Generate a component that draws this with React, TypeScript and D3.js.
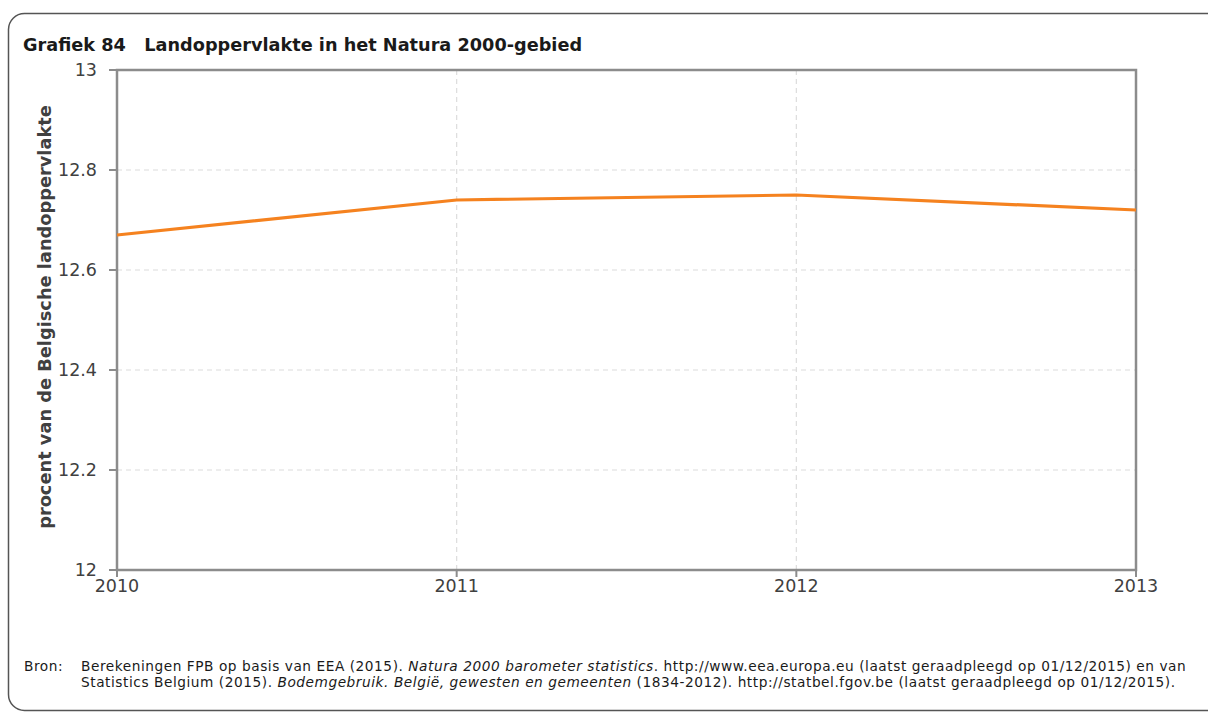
import React from "react";
import * as d3 from "d3";

const years = [2010, 2011, 2012, 2013];
const values = [12.67, 12.74, 12.75, 12.72];
const yTicks = [12, 12.2, 12.4, 12.6, 12.8, 13];
const yTickLabels = ["12", "12.2", "12.4", "12.6", "12.8", "13"];
const xTickLabels = ["2010", "2011", "2012", "2013"];

const title = "Grafiek 84\u00a0\u00a0\u00a0Landoppervlakte in het Natura 2000-gebied";
const yLabel = "procent van de Belgische landoppervlakte";

const W = 1208;
const H = 713;
const FONT = "'DejaVu Sans', Verdana, sans-serif";

export default function App() {
  const x = d3.scaleLinear().domain([2010, 2013]).range([117, 1136]);
  const y = d3.scaleLinear().domain([12, 13]).range([570, 70]);
  const line = d3
    .line<number>()
    .x((_, i) => x(years[i]))
    .y((d) => y(d));

  return (
    <svg
      width={W}
      height={H}
      style={{ position: "absolute", left: 0, top: 0, background: "#fff" }}
    >
      <rect x={8.5} y={13.5} width={1215} height={697} rx={16} ry={16} fill="#fff" stroke="#555" strokeWidth={1.5} />
      <text x={23} y={51} fontFamily={FONT} fontWeight="bold" fontSize={17.7} fill="#1a1a1a">
        {title}
      </text>

      {/* grid */}
      {yTicks.slice(1, -1).map((t) => (
        <line key={"gy" + t} x1={x(2010)} x2={x(2013)} y1={y(t)} y2={y(t)} stroke="#dcdcdc" strokeWidth={1.2} strokeDasharray="5,4" />
      ))}
      {years.slice(1, -1).map((yr) => (
        <line key={"gx" + yr} x1={x(yr)} x2={x(yr)} y1={y(13)} y2={y(12)} stroke="#dcdcdc" strokeWidth={1.2} strokeDasharray="5,4" />
      ))}

      {/* axes frame */}
      <rect x={x(2010)} y={y(13)} width={x(2013) - x(2010)} height={y(12) - y(13)} fill="none" stroke="#8c8c8c" strokeWidth={2.5} />

      {/* y ticks */}
      {yTicks.map((t, i) => (
        <g key={"yt" + t}>
          <line x1={x(2010) - 8} x2={x(2010)} y1={y(t)} y2={y(t)} stroke="#8c8c8c" strokeWidth={2} />
          <text x={x(2010) - 20} y={y(t)} dy="0.36em" textAnchor="end" fontFamily={FONT} fontSize={17.5} fill="#404040">
            {yTickLabels[i]}
          </text>
        </g>
      ))}
      {/* x ticks */}
      {years.map((yr, i) => (
        <g key={"xt" + yr}>
          <line x1={x(yr)} x2={x(yr)} y1={y(12)} y2={y(12) + 7} stroke="#8c8c8c" strokeWidth={2} />
          <text x={x(yr)} y={y(12) + 22} textAnchor="middle" fontFamily={FONT} fontSize={17.5} fill="#404040">
            {xTickLabels[i]}
          </text>
        </g>
      ))}

      <text
        transform={`translate(51, 317) rotate(-90)`}
        textAnchor="middle"
        fontFamily={FONT}
        fontWeight="bold"
        fontSize={17.8}
        fill="#404040"
      >
        {yLabel}
      </text>

      <path d={line(values) || ""} fill="none" stroke="#f5821f" strokeWidth={3.2} strokeLinejoin="round" />

      <g fontFamily={FONT} fontSize={13.7} fill="#1a1a1a" letterSpacing={0.55}>
        <text x={24} y={671}>Bron:</text>
        <text x={81} y={671}>
          Berekeningen FPB op basis van EEA (2015). <tspan fontStyle="italic">Natura 2000 barometer statistics</tspan>. http://www.eea.europa.eu (laatst geraadpleegd op 01/12/2015) en van
        </text>
        <text x={81} y={687}>
          Statistics Belgium (2015). <tspan fontStyle="italic">Bodemgebruik. België, gewesten en gemeenten</tspan> (1834-2012). http://statbel.fgov.be (laatst geraadpleegd op 01/12/2015).
        </text>
      </g>
    </svg>
  );
}
